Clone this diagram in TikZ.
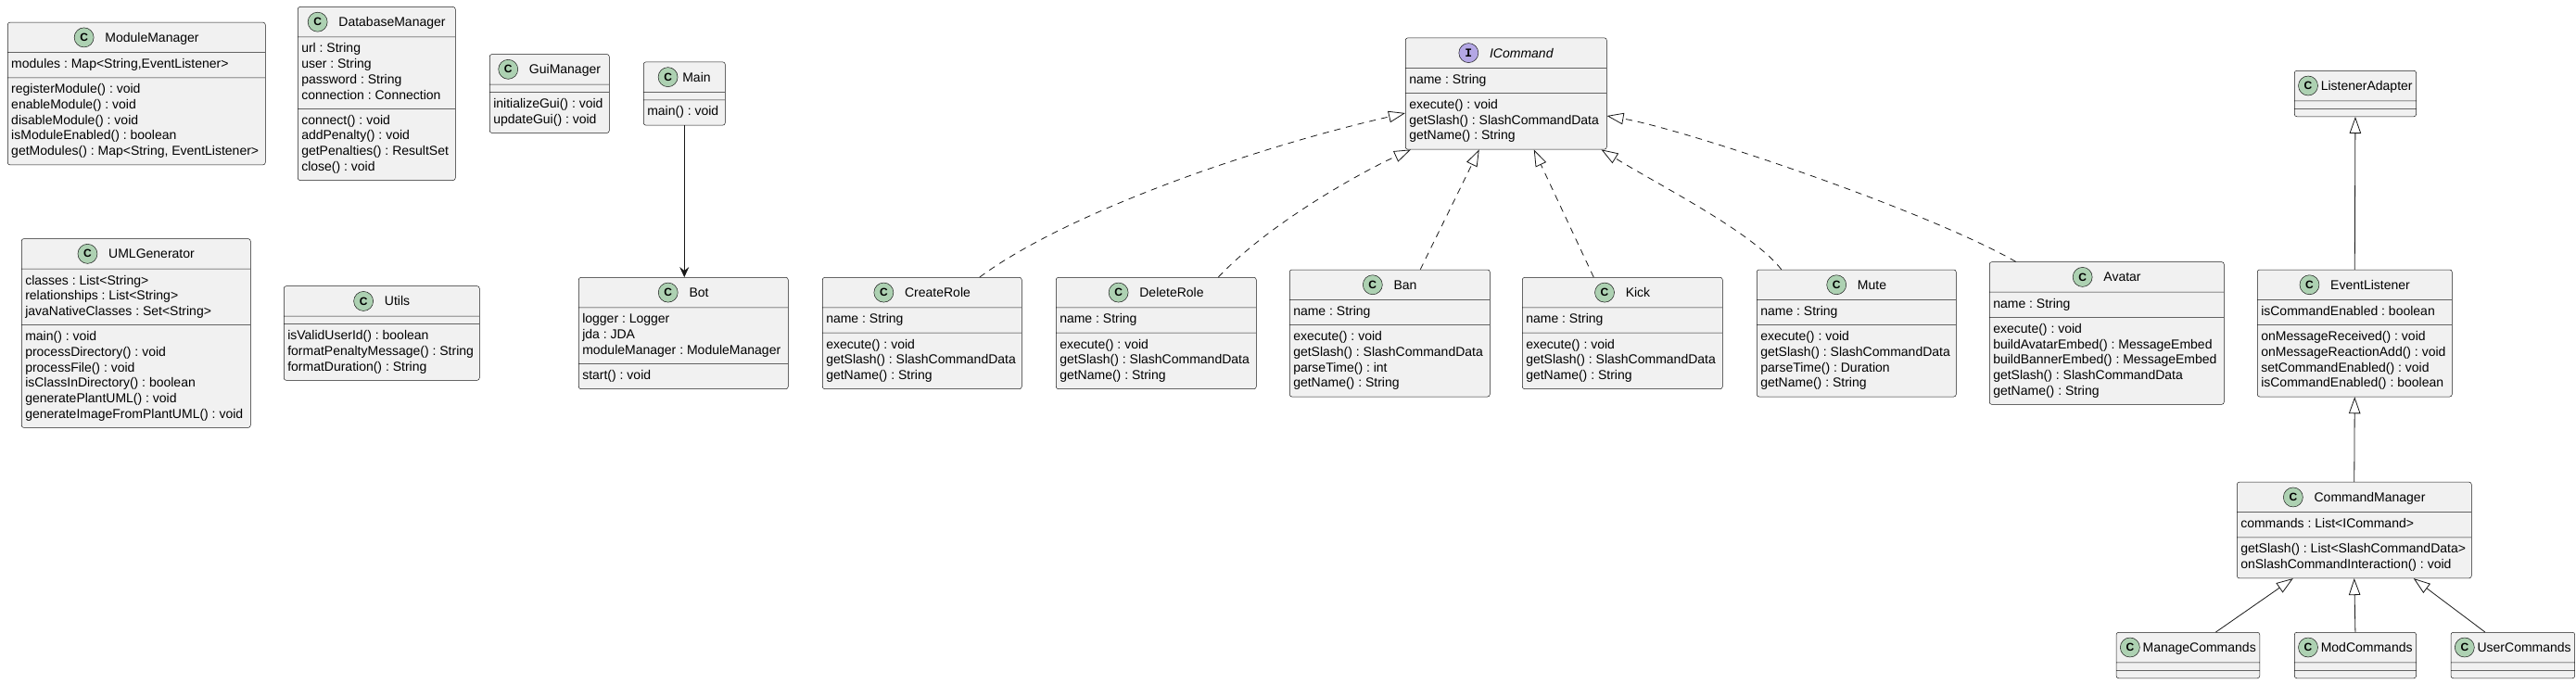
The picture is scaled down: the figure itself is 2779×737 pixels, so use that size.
\documentclass[tikz,border=0pt]{standalone}
\usepackage{fontspec}
\setmainfont{Liberation Sans}
\newfontfamily\spotmono{Liberation Mono}
\usepackage{etoolbox}
\usetikzlibrary{positioning, arrows.meta, shapes.multipart}
\frenchspacing
\definecolor{cClassBg}{HTML}{F1F1F1}
\definecolor{cClassLine}{HTML}{181818}
\definecolor{cSpotC}{HTML}{ADD1B2}
\definecolor{cSpotI}{HTML}{B4A7E5}
\tikzset{
  classbox/.style={
    rectangle split, rectangle split parts=3,
    rectangle split part align={center,left,left},
    draw=cClassLine, line width=0.5pt,
    fill=cClassBg,
    rounded corners=2.5pt,
    inner xsep=4pt, inner ysep=0pt,
    align=left,
    anchor=west,
    minimum width=#1,
    font=\fontsize{14}{16.7}\selectfont
  },
  spotbox/.style={
    circle, draw=cClassLine, line width=0.5pt,
    fill=#1, inner sep=0pt, minimum size=21pt,
    anchor=center, text=black
  },
  realize/.style={
    -{Triangle[open,length=18pt,width=12.5pt,fill=white]},
    line width=0.8pt, draw=cClassLine,
    dash pattern=on 7pt off 6pt
  },
  extends/.style={
    -{Triangle[open,length=18pt,width=12.5pt,fill=white]},
    line width=0.8pt, draw=cClassLine
  },
  uses/.style={
    -{Stealth[length=11pt,width=10pt,inset=4pt]},
    line width=0.8pt, draw=cClassLine
  }
}
\newcommand{\cspot}{\tikz[baseline=-5pt]\node[spotbox=cSpotC,font=\fontsize{12}{12}\selectfont\bfseries]{C};}
\newcommand{\ispot}{\tikz[baseline=-5pt]\node[spotbox=cSpotI,font=\fontsize{13}{13}\selectfont\spotmono\bfseries]{I};}
\newcommand{\members}[1]{\ifblank{#1}{\hbox to 1pt{\vrule height 8pt width 0pt\hfil}}{\rule{0pt}{16.7pt}#1\rule[-10pt]{0pt}{10pt}}}
\newcommand{\umlcls}[5][12pt]{\rule[-11pt]{0pt}{32pt}#2\hspace{#1}#3\nodepart{two}\members{#4}\nodepart{three}\members{#5}}

\begin{document}
\begin{tikzpicture}[x=1pt, y=-1pt]
  \useasboundingbox (0,0) rectangle (2779,737);

  \node[classbox=278pt] (modmgr) at (8,101) {\umlcls{\cspot}{ModuleManager}{modules : Map<String,EventListener>}{registerModule() : void\\enableModule() : void\\disableModule() : void\\isModuleEnabled() : boolean\\getModules() : Map<String, EventListener>}};
  \node[classbox=170pt] (dbmgr) at (321,101) {\umlcls{\cspot}{DatabaseManager}{url : String\\user : String\\password : String\\connection : Connection}{connect() : void\\addPenalty() : void\\getPenalties() : ResultSet\\close() : void}};
  \node[classbox=129pt] (guimgr) at (528,101) {\umlcls{\cspot}{GuiManager}{}{initializeGui() : void\\updateGui() : void}};
  \node[classbox=88pt] (main) at (694,101) {\umlcls[5pt]{\cspot}{Main}{}{main() : void}};
  \node[classbox=217pt] (icmd) at (1516,101) {\umlcls{\ispot}{\textit{ICommand}}{name : String}{execute() : void\\getSlash() : SlashCommandData\\getName() : String}};
  \node[classbox=130pt] (lsnadp) at (2475,101) {\umlcls[3pt]{\cspot}{ListenerAdapter}{}{}};

  \node[classbox=247pt] (umlgen) at (23,359.5) {\umlcls{\cspot}{UMLGenerator}{classes : List<String>\\relationships : List<String>\\javaNativeClasses : Set<String>}{main() : void\\processDirectory() : void\\processFile() : void\\isClassInDirectory() : boolean\\generatePlantUML() : void\\generateImageFromPlantUML() : void}};
  \node[classbox=211pt] (utils) at (306,359.5) {\umlcls{\cspot}{Utils}{}{isValidUserId() : boolean\\formatPenaltyMessage() : String\\formatDuration() : String}};
  \node[classbox=226pt] (bot) at (624,359.5) {\umlcls{\cspot}{Bot}{logger : Logger\\jda : JDA\\moduleManager : ModuleManager}{start() : void}};
  \node[classbox=215pt] (crole) at (887,359.5) {\umlcls{\cspot}{CreateRole}{name : String}{execute() : void\\getSlash() : SlashCommandData\\getName() : String}};
  \node[classbox=216pt] (drole) at (1139,359.5) {\umlcls{\cspot}{DeleteRole}{name : String}{execute() : void\\getSlash() : SlashCommandData\\getName() : String}};
  \node[classbox=216pt] (ban) at (1391,359.5) {\umlcls{\cspot}{Ban}{name : String}{execute() : void\\getSlash() : SlashCommandData\\parseTime() : int\\getName() : String}};
  \node[classbox=216pt] (kick) at (1642,359.5) {\umlcls{\cspot}{Kick}{name : String}{execute() : void\\getSlash() : SlashCommandData\\getName() : String}};
  \node[classbox=215pt] (mute) at (1895,359.5) {\umlcls{\cspot}{Mute}{name : String}{execute() : void\\getSlash() : SlashCommandData\\parseTime() : Duration\\getName() : String}};
  \node[classbox=253pt] (avatar) at (2146,359.5) {\umlcls{\cspot}{Avatar}{name : String}{execute() : void\\buildAvatarEmbed() : MessageEmbed\\buildBannerEmbed() : MessageEmbed\\getSlash() : SlashCommandData\\getName() : String}};
  \node[classbox=210pt] (evtlsn) at (2435,359.5) {\umlcls{\cspot}{EventListener}{isCommandEnabled : boolean}{onMessageReceived() : void\\onMessageReactionAdd() : void\\setCommandEnabled() : void\\isCommandEnabled() : boolean}};

  \node[classbox=253pt] (cmdmgr) at (2413,572) {\umlcls{\cspot}{CommandManager}{commands : List<ICommand>}{getSlash() : List<SlashCommandData>\\onSlashCommandInteraction() : void}};
  \node[classbox=129pt] (modcmd) at (2475,707) {\umlcls[3pt]{\cspot}{ModCommands}{}{}};
  \node[classbox=153pt, left=37pt of modcmd] (mngcmd) {\umlcls[3pt]{\cspot}{ManageCommands}{}{}};
  \node[classbox=132pt, right=37pt of modcmd] (usrcmd) {\umlcls[3pt]{\cspot}{UserCommands}{}{}};

  \draw[uses] (main.south) -- (main.south |- bot.north);

  \draw[realize] ([xshift=62pt]crole.north) .. controls (1150,230) and (1350,160) .. ([yshift=-21pt]icmd.west);
  \draw[realize] ([xshift=67pt]drole.north) .. controls (1370,240) and (1470,185) .. ([xshift=6pt]icmd.south west);
  \draw[realize] ([xshift=33pt]ban.north) -- ([xshift=-29pt]icmd.south);
  \draw[realize] ([xshift=-31pt]kick.north) -- ([xshift=30pt]icmd.south);
  \draw[realize] ([xshift=-81pt]mute.north) .. controls (1890,250) and (1790,200) .. ([xshift=-6pt]icmd.south east);
  \draw[realize] ([xshift=-98pt]avatar.north) .. controls (2080,228) and (1820,140) .. ([yshift=-24pt]icmd.east);

  \draw[extends] (evtlsn.north) -- (lsnadp.south);
  \draw[extends] (cmdmgr.north) -- (evtlsn.south);
  \draw[extends] ([xshift=30pt]mngcmd.north) -- ([xshift=-66pt]cmdmgr.south);
  \draw[extends] (modcmd.north) -- (cmdmgr.south);
  \draw[extends] ([xshift=-30pt]usrcmd.north) -- ([xshift=64pt]cmdmgr.south);
\end{tikzpicture}
\end{document}
